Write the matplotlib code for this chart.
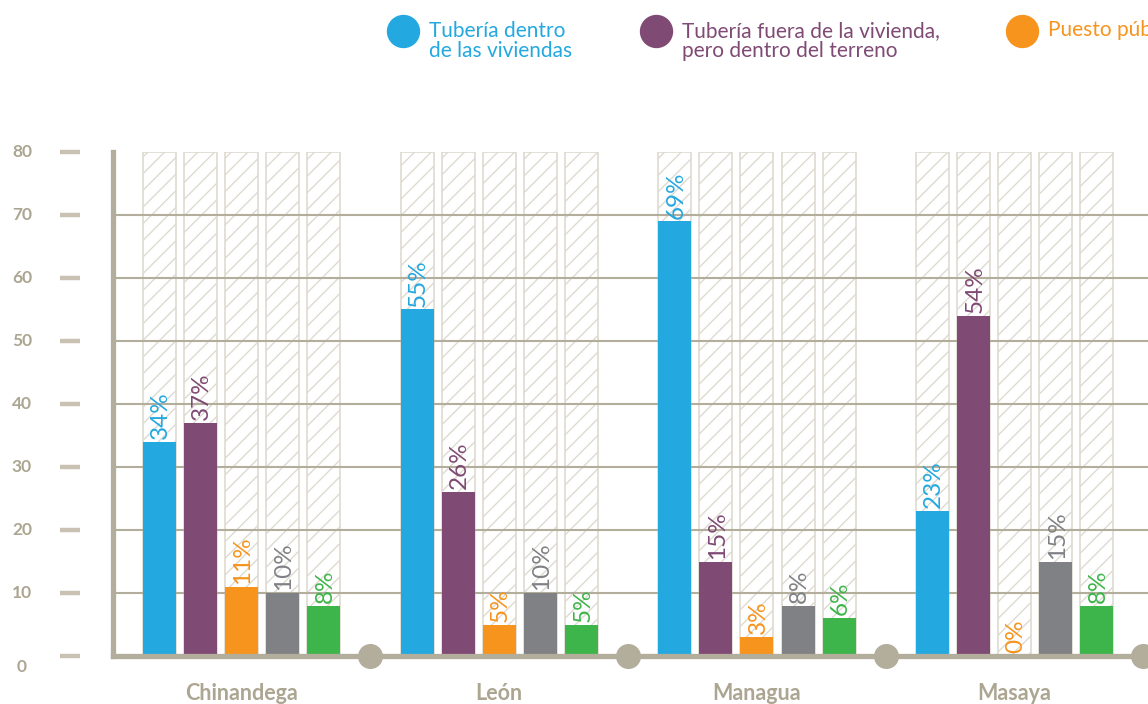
import matplotlib.pyplot as plt
import numpy as np
from matplotlib.transforms import blended_transform_factory

# data
departments = ["Chinandega", "León", "Managua", "Masaya"]
series = [
    "Tubería dentro\nde las viviendas",
    "Tubería fuera de la vivienda,\npero dentro del terreno",
    "Puesto público",
]
pct_dentro = [34, 55, 69, 23]
pct_fuera = [37, 26, 15, 54]
pct_puesto = [11, 5, 3, 0]
pct_gris = [10, 10, 8, 15]
pct_verde = [8, 5, 6, 8]
y_ticks = [0, 10, 20, 30, 40, 50, 60, 70, 80]

colors = ["#23a8e0", "#7f4a74", "#f7941d", "#808184", "#3db54a"]
axis_col = "#b3ad9c"
label_col = "#aca591"

plt.rcParams['font.family'] = ['Lato', 'DejaVu Sans']
plt.rcParams['hatch.color'] = "#d8d4ca"
plt.rcParams['hatch.linewidth'] = 1.0

fig = plt.figure(figsize=(11.48, 7.04), dpi=100)
ax = fig.add_axes([113 / 1148, 48 / 704, 1 - 113 / 1148, 504 / 704])

group_step = 257.7
bar_step = 41.1 / group_step
bar_w = 33 / group_step

values = np.array([pct_dentro, pct_fuera, pct_puesto, pct_gris, pct_verde])
x_groups = np.arange(len(departments))

for j in range(5):
    xs = x_groups + (j - 2) * bar_step
    # hatched background columns up to 80
    ax.bar(xs, [80] * len(xs), width=bar_w, facecolor="white",
           edgecolor="#dedad1", hatch="//", linewidth=1.2, zorder=1)
    ax.bar(xs, values[j], width=bar_w, color=colors[j], zorder=3)
    for x, v in zip(xs, values[j]):
        ax.annotate(f"{v}%", (x, v), xytext=(1, 2), textcoords="offset points",
                    rotation=90, ha="center", va="bottom", fontsize=17.5,
                    color=colors[j], zorder=4)

for y in y_ticks[1:-1]:
    ax.axhline(y, color=axis_col, lw=1.5, zorder=2)

ax.set_xlim((113 - 241.5) / group_step, (1148 - 241.5) / group_step)
ax.set_ylim(0, 80)
for s in ["top", "right"]:
    ax.spines[s].set_visible(False)
for s in ["left", "bottom"]:
    ax.spines[s].set_color(axis_col)
    ax.spines[s].set_linewidth(3.8)
    ax.spines[s].set_zorder(5)
ax.set_xticks([])
ax.set_yticks([])

# separators on the baseline
ax.plot(x_groups + 0.5, [0] * len(x_groups), "o", ms=17, color=axis_col,
        clip_on=False, zorder=6)

# y tick dashes and labels, set apart from the axis
tr = blended_transform_factory(ax.transAxes, ax.transData)
for y in y_ticks:
    ax.plot([-0.0515, -0.032], [y, y], color="#c9c2b2", lw=3.2,
            transform=tr, clip_on=False, solid_capstyle="butt")
    ax.text(-0.088, y - (1.8 if y == 0 else 0), str(y), transform=tr,
            ha="center", va="center", fontsize=12.5, fontweight="bold",
            color=label_col)

# department names
for x, name in zip(x_groups, departments):
    ax.text(x, -5.9, name, ha="center", va="center", fontsize=15.5,
            fontweight="bold", color=label_col, clip_on=False)

# legend
leg_x = [403, 656, 1022]
for i, (lx, name) in enumerate(zip(leg_x, series)):
    fig.lines.append(plt.Line2D([lx / 1148], [1 - 31 / 704], marker="o",
                                ms=23, color=colors[i], transform=fig.transFigure))
    ty = 1 - (41 / 704 if "\n" in name else 30 / 704)
    fig.text((lx + 26) / 1148, ty, name, ha="left", va="center",
             fontsize=15, color=colors[i], linespacing=1.05)

fig.savefig("out.png", dpi=100)
